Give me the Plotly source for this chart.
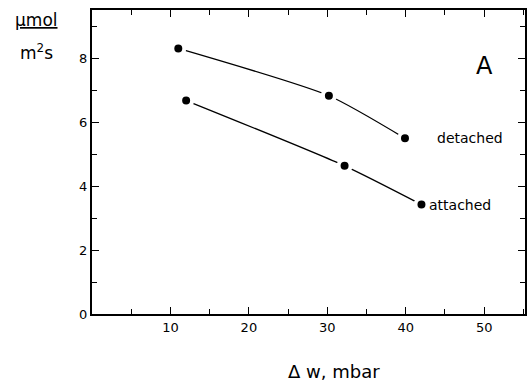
import plotly.graph_objects as go

detached_x = [11.0, 30.2, 39.9]
detached_y = [8.3, 6.82, 5.49]
attached_x = [12.0, 32.2, 42.0]
attached_y = [6.67, 4.63, 3.42]
x_ticks = [10, 20, 30, 40, 50]
y_ticks = [0, 2, 4, 6, 8]

FONT = "DejaVu Sans"
fig = go.Figure()
for xs, ys in [(detached_x, detached_y), (attached_x, attached_y)]:
    fig.add_trace(go.Scatter(
        x=xs, y=ys, mode="lines+markers",
        line=dict(color="black", width=1.3, shape="spline", smoothing=0.6),
        marker=dict(color="black", size=12, line=dict(color="white", width=4)),
        showlegend=False, hoverinfo="skip"))

fig.add_annotation(x=detached_x[-1], y=detached_y[-1], text="detached", showarrow=False,
                   xanchor="left", xshift=30, font=dict(family=FONT, size=14, color="black"))
fig.add_annotation(x=attached_x[-1], y=attached_y[-1], text="attached", showarrow=False,
                   xanchor="left", xshift=6, font=dict(family=FONT, size=14, color="black"))
fig.add_annotation(xref="paper", yref="paper", x=(486 - 92) / 435, y=(314 - 66) / 304, text="A",
                   showarrow=False, xanchor="center", yanchor="middle",
                   font=dict(family=FONT, size=24, color="black"))
fig.add_annotation(xref="paper", yref="paper", x=-0.129, y=0.967, text="<u>μmol</u>",
                   showarrow=False, xanchor="center", yanchor="middle",
                   font=dict(family=FONT, size=17, color="black"))
fig.add_annotation(xref="paper", yref="paper", x=-0.129, y=0.862, text="m<sup>2</sup>s",
                   showarrow=False, xanchor="center", yanchor="middle",
                   font=dict(family=FONT, size=17, color="black"))
fig.add_annotation(xref="paper", yref="paper", x=(335 - 92) / 435, y=(314 - 371) / 304,
                   text="Δ w, mbar", showarrow=False, xanchor="center", yanchor="middle",
                   font=dict(family=FONT, size=18, color="black"))

axcommon = dict(showgrid=False, zeroline=False, showline=True, linecolor="black", linewidth=2,
                ticks="inside", tickcolor="black", tickwidth=1.2, ticklen=7, mirror="ticks",
                tickfont=dict(family=FONT, size=13, color="black"))
fig.update_xaxes(range=[0, 55.2], tickvals=x_ticks,
                 minor=dict(tickvals=[5, 15, 25, 35, 45, 55], ticks="inside", ticklen=5, tickcolor="black"),
                 **axcommon)
fig.update_yaxes(range=[0, 9.5], tickvals=y_ticks,
                 minor=dict(tickvals=[1, 3, 5, 7, 9], ticks="inside", ticklen=5, tickcolor="black"),
                 **axcommon)
fig.update_layout(width=528, height=383, margin=dict(l=92, r=1, t=10, b=69),
                  paper_bgcolor="white", plot_bgcolor="white")
fig.write_html("out.html")
